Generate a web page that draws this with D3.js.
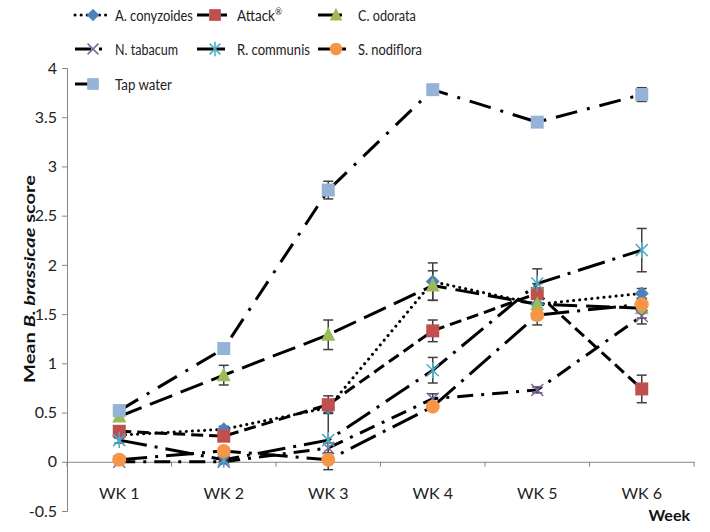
<!DOCTYPE html>
<html><head><meta charset="utf-8">
<script src="https://cdn.jsdelivr.net/npm/d3@7"></script>
<style>body{margin:0;background:#fff}svg{display:block}text{font-family:Lato,"Open Sans",sans-serif}</style>
</head><body>
<svg id="c" width="710" height="532"></svg>
<script>
const weeks = ["WK 1","WK 2","WK 3","WK 4","WK 5","WK 6"];
const seriesNames = ["A. conyzoides","Attack","C. odorata","N. tabacum","R. communis","S. nodiflora","Tap water"];
const aConyzoides = [0.27,0.33,0.55,1.83,1.60,1.71];
const attack      = [0.31,0.26,0.58,1.33,1.71,0.74];
const cOdorata    = [0.46,0.88,1.29,1.79,1.60,1.56];
const nTabacum    = [0.00,0.00,0.14,0.64,0.73,1.48];
const rCommunis   = [0.22,0.02,0.22,0.93,1.81,2.15];
const sNodiflora  = [0.02,0.11,0.02,0.56,1.49,1.60];
const tapWater    = [0.52,1.15,2.76,3.78,3.45,3.73];
const errAConyzoides = [0.03,0.03,0.05,0.19,0.05,0.05];
const errAttack      = [0.03,0.03,0.09,0.11,0.10,0.14];
const errCOdorata    = [0.03,0.10,0.15,0.15,0.10,0.10];
const errNTabacum    = [0.02,0.02,0.05,0.05,0.03,0.08];
const errRCommunis   = [0.03,0.02,0.30,0.13,0.15,0.22];
const errSNodiflora  = [0.01,0.02,0.02,0.03,0.10,0.05];
const errTapWater    = [0.02,0.03,0.09,0.05,0.05,0.07];
const yTicks = [-0.5,0,0.5,1,1.5,2,2.5,3,3.5,4];

const values = [aConyzoides,attack,cOdorata,nTabacum,rCommunis,sNodiflora,tapWater];
const errs = [errAConyzoides,errAttack,errCOdorata,errNTabacum,errRCommunis,errSNodiflora,errTapWater];
const styles = [
  {color:"#4F81BD", marker:"diamond", dash:"0.1,6", cap:"round", sup:"", tw:78},
  {color:"#C0504D", marker:"square", dash:"12,6", cap:"butt", sup:"®", tw:45},
  {color:"#9BBB59", marker:"triangle", dash:"24,9", cap:"butt", sup:"", tw:58},
  {color:"#8064A2", marker:"x", dash:"16,8,3,8", cap:"butt", sup:"", tw:63},
  {color:"#4BACC6", marker:"star", dash:"28,8,3,8", cap:"butt", sup:"", tw:73},
  {color:"#F79646", marker:"circle", dash:"28,8,3,8", cap:"butt", sup:"", tw:64},
  {color:"#95B3D7", marker:"square", dash:"22,10,3,10", cap:"butt", sup:"", tw:57}
];
const series = seriesNames.map((n,i)=>({name:n, vals:values[i], err:errs[i], st:styles[i]}));

const svg = d3.select("#c");
const x = d3.scaleBand().domain(weeks).range([67,694]);
const y = d3.scaleLinear().domain([-0.5,4]).range([511,68]);
const cx = d => x(d)+x.bandwidth()/2;
const axisCol = "#868686";

// y axis
const ya = svg.append("g").attr("transform","translate(67,0)")
  .call(d3.axisLeft(y).tickValues(yTicks).tickSize(5).tickFormat(d=>String(d)));
ya.select(".domain").attr("stroke",axisCol);
ya.selectAll(".tick line").attr("stroke",axisCol);
ya.selectAll(".tick text").attr("font-size","16px").attr("fill","#222").attr("x",-10)
  .style("font-family","Lato,sans-serif");

// x axis at y=0
const xa = svg.append("g").attr("transform",`translate(0,${y(0)})`)
  .call(d3.axisBottom(x).tickSize(0).tickFormat(""));
xa.select(".domain").attr("stroke",axisCol);
const bounds = weeks.map(w=>x(w)).concat([x.range()[1]]);
svg.append("g").selectAll("line").data(bounds).join("line")
  .attr("x1",d=>d).attr("x2",d=>d).attr("y1",y(0)).attr("y2",y(0)+5).attr("stroke",axisCol);
svg.append("g").selectAll("text").data(weeks).join("text")
  .attr("x",d=>cx(d)).attr("y",499).attr("text-anchor","middle")
  .attr("font-size","16px").attr("fill","#222").text(d=>d);

// axis titles
svg.append("text").attr("x",690).attr("y",521).attr("text-anchor","end")
  .attr("font-size","16px").attr("font-weight","bold").attr("fill","#111").text("Week");
const yt = svg.append("text").attr("transform","translate(35,279) rotate(-90)")
  .attr("text-anchor","middle").attr("font-size","16px").attr("font-weight","bold").attr("fill","#111")
  .attr("textLength",208).attr("lengthAdjust","spacingAndGlyphs");
yt.append("tspan").text("Mean ");
yt.append("tspan").attr("font-style","italic").text("B. brassicae");
yt.append("tspan").text(" score");

// lines
const line = d3.line().x((d,i)=>cx(weeks[i])).y(d=>y(d));
svg.append("g").selectAll("path").data(series).join("path")
  .attr("d",d=>line(d.vals)).attr("fill","none").attr("stroke","#000")
  .attr("stroke-width",3).attr("stroke-dasharray",d=>d.st.dash).attr("stroke-linecap",d=>d.st.cap);

// error bars
const eg = svg.append("g").attr("stroke","#404040").attr("stroke-width",1.5);
series.forEach(s=>{
  s.vals.forEach((v,i)=>{
    const xx = cx(weeks[i]);
    const e = s.err[i];
    eg.append("line").attr("x1",xx).attr("x2",xx).attr("y1",y(v-e)).attr("y2",y(v+e));
    eg.append("line").attr("x1",xx-5).attr("x2",xx+5).attr("y1",y(v-e)).attr("y2",y(v-e));
    eg.append("line").attr("x1",xx-5).attr("x2",xx+5).attr("y1",y(v+e)).attr("y2",y(v+e));
  });
});

function drawMarker(g, type, color, px, py, scale=1){
  const k = scale;
  if(type==="square") g.append("rect").attr("x",px-6.5*k).attr("y",py-6.5*k).attr("width",13*k).attr("height",13*k).attr("fill",color);
  else if(type==="diamond") g.append("path").attr("d",`M${px},${py-7*k}L${px+7*k},${py}L${px},${py+7*k}L${px-7*k},${py}Z`).attr("fill",color);
  else if(type==="triangle") g.append("path").attr("d",`M${px},${py-8*k}L${px+7*k},${py+6*k}L${px-7*k},${py+6*k}Z`).attr("fill",color);
  else if(type==="circle") g.append("circle").attr("cx",px).attr("cy",py).attr("r",7*k).attr("fill",color);
  else if(type==="x") g.append("path").attr("d",`M${px-6*k},${py-6*k}L${px+6*k},${py+6*k}M${px+6*k},${py-6*k}L${px-6*k},${py+6*k}`).attr("stroke",color).attr("stroke-width",1.5).attr("fill","none");
  else if(type==="star") g.append("path").attr("d",`M${px-6*k},${py-6*k}L${px+6*k},${py+6*k}M${px+6*k},${py-6*k}L${px-6*k},${py+6*k}M${px},${py-8*k}L${px},${py+8*k}`).attr("stroke",color).attr("stroke-width",1.5).attr("fill","none");
}

// markers
const mg = svg.append("g");
series.forEach(s=>{
  s.vals.forEach((v,i)=>drawMarker(mg, s.st.marker, s.st.color, cx(weeks[i]), y(v)));
});

// legend
const legCols = [75,197,318];
const legRows = [15,49,84];
const lg = svg.append("g");
series.forEach((s,i)=>{
  const lx = legCols[i%3], ly = legRows[Math.floor(i/3)];
  lg.append("line").attr("x1",lx).attr("x2",lx+32).attr("y1",ly).attr("y2",ly)
    .attr("stroke","#000").attr("stroke-width",3).attr("stroke-dasharray",s.st.dash).attr("stroke-linecap",s.st.cap);
  drawMarker(lg, s.st.marker, s.st.color, lx+18, ly, 0.9);
  const t = lg.append("text").attr("font-size","16px").attr("fill","#222");
  t.append("tspan").text(s.name);
  if(s.st.sup) t.append("tspan").attr("font-size","10px").attr("dy",-6).text(s.st.sup);
  const natural = t.node().getComputedTextLength();
  const sx = Math.min(1, s.st.tw / natural);
  t.attr("transform",`translate(${lx+40},${ly+5.5}) scale(${sx},1)`);
});
</script>
</body></html>
